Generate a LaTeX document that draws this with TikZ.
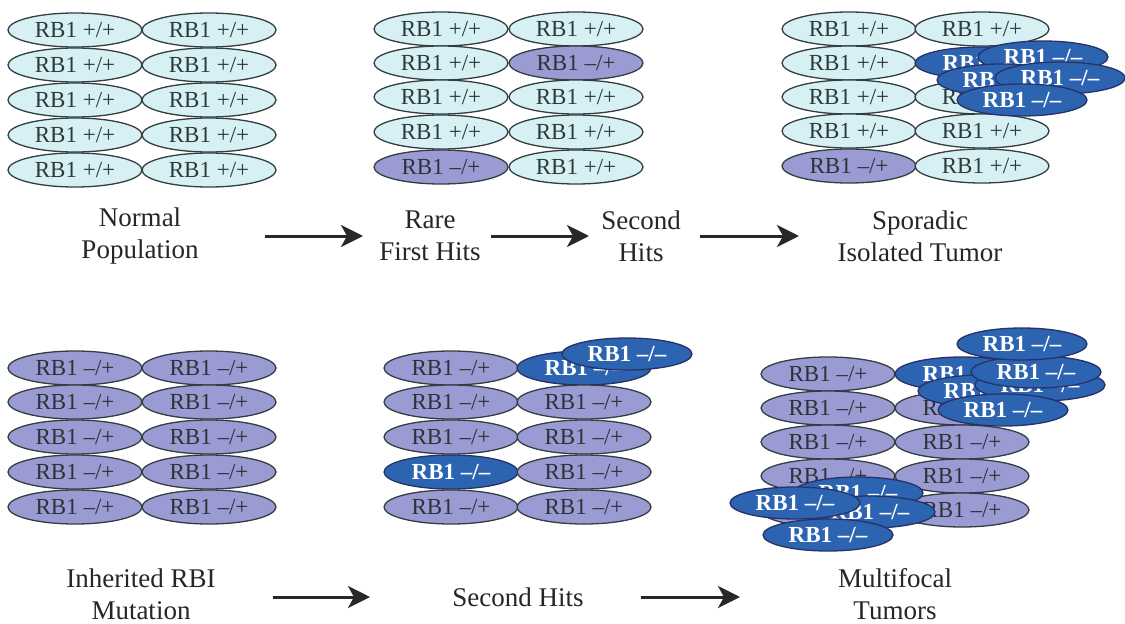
\documentclass[tikz,border=0pt]{standalone}
\usepackage{fontspec}
\setmainfont{Liberation Serif}
\usetikzlibrary{shapes.geometric,arrows.meta}
\definecolor{cellcyan}{RGB}{214,240,243}
\definecolor{cellpurple}{RGB}{155,155,212}
\definecolor{cellblue}{RGB}{44,100,178}
\definecolor{celledge}{RGB}{50,62,64}
\definecolor{txtdark}{RGB}{45,58,60}
\definecolor{arrgray}{RGB}{40,40,40}
\tikzset{
  cell/.style={ellipse,draw=celledge,line width=1.3pt,minimum width=134pt,minimum height=34pt,inner sep=0pt,font=\fontsize{23}{25}\selectfont},
  wt/.style={cell,fill=cellcyan,text=txtdark},
  ht/.style={cell,fill=cellpurple,text=txtdark!90!black},
  ko/.style={cell,fill=cellblue,draw=celledge!80!blue,text=white,font=\fontsize{23}{25}\selectfont\bfseries,minimum width=130pt,minimum height=32pt},
  lbl/.style={align=center,font=\fontsize{27}{32}\selectfont,text=black!85},
  arr/.style={draw=arrgray,line width=3pt,-{Stealth[length=22pt,width=22pt,inset=6pt]}}
}
\newcommand{\wtxt}{RB1 +/+}
\newcommand{\htxt}{RB1 –/+}
\newcommand{\ktxt}{RB1 –/–}
\begin{document}
\begin{tikzpicture}[x=1pt,y=-1pt]
\useasboundingbox (0,0) rectangle (1125,624);
\fill[white] (0,0) rectangle (1125,624);

% ---------- Normal population ----------
\foreach \r/\y in {1/30,2/65,3/100,4/135,5/170}{
  \node[wt] (n\r a) at (75,\y) {\wtxt};
  \node[wt] (n\r b) at (209,\y) {\wtxt};
}

% ---------- Rare first hits ----------
\node[wt] (f1a) at (441,29) {\wtxt};
\node[wt] (f1b) at (576,29) {\wtxt};
\node[wt] (f2a) at (441,63) {\wtxt};
\node[ht] (f2b) at (576,63) {\htxt};
\node[wt] (f3a) at (441,97) {\wtxt};
\node[wt] (f3b) at (576,97) {\wtxt};
\node[wt] (f4a) at (441,132) {\wtxt};
\node[wt] (f4b) at (576,132) {\wtxt};
\node[ht] (f5a) at (441,167) {\htxt};
\node[wt] (f5b) at (576,167) {\wtxt};

% ---------- Sporadic isolated tumor ----------
\node[wt] (s1a) at (849,29) {\wtxt};
\node[wt] (s1b) at (982,29) {\wtxt};
\node[wt] (s2a) at (849,63) {\wtxt};
\node[wt] (s3a) at (849,97) {\wtxt};
\node[wt] (s3b) at (982,97) {\wtxt};
\node[wt] (s4a) at (849,131) {\wtxt};
\node[wt] (s4b) at (982,131) {\wtxt};
\node[ht] (s5a) at (849,166) {\htxt};
\node[wt] (s5b) at (982,166) {\wtxt};
\node[ko,minimum width=134pt] (s2b) at (982,63) {\ktxt};
\node[ko] (sk1) at (1043,57) {\ktxt};
\node[ko] (sk2) at (1002,80) {\ktxt};
\node[ko] (sk3) at (1060,78) {\ktxt};
\node[ko] (sk4) at (1022,100) {\ktxt};

% ---------- Inherited ----------
\foreach \r/\y in {1/368,2/402,3/437,4/472,5/507}{
  \node[ht] (i\r a) at (75,\y) {\htxt};
  \node[ht] (i\r b) at (209,\y) {\htxt};
}

% ---------- Second hits (inherited) ----------
\node[ht] (h1a) at (451,368) {\htxt};
\node[ko,minimum width=134pt,minimum height=34pt] (h1b) at (584,368) {\ktxt};
\node[ht] (h2a) at (451,402) {\htxt};
\node[ht] (h2b) at (584,402) {\htxt};
\node[ht] (h3a) at (451,437) {\htxt};
\node[ht] (h3b) at (584,437) {\htxt};
\node[ko,minimum width=134pt,minimum height=34pt] (h4a) at (451,472) {\ktxt};
\node[ht] (h4b) at (584,472) {\htxt};
\node[ht] (h5a) at (451,507) {\htxt};
\node[ht] (h5b) at (584,507) {\htxt};
\node[ko] (hk1) at (627,354) {\ktxt};

% ---------- Multifocal tumors ----------
\node[ht] (m1a) at (828,374) {\htxt};
\node[ht] (m2a) at (828,408) {\htxt};
\node[ht] (m2b) at (962,408) {\htxt};
\node[ht] (m3a) at (828,442) {\htxt};
\node[ht] (m3b) at (962,442) {\htxt};
\node[ht] (m4a) at (828,476) {\htxt};
\node[ht] (m4b) at (962,476) {\htxt};
\node[ht] (m5a) at (828,510) {\htxt};
\node[ht] (m5b) at (962,510) {\htxt};
\node[ko,minimum width=134pt,minimum height=34pt] (m1b) at (962,374) {\ktxt};
\node[ko] (mk1) at (983,391) {\ktxt};
\node[ko] (mk2) at (1040,385) {\ktxt};
\node[ko] (mk3) at (1036,372) {\ktxt};
\node[ko] (mk4) at (1003,410) {\ktxt};
\node[ko] (mk5) at (1022,344) {\ktxt};
\node[ko] (ml1) at (858,493) {\ktxt};
\node[ko] (ml2) at (870,512) {\ktxt};
\node[ko] (ml3) at (795,503) {\ktxt};
\node[ko] (ml4) at (828,535) {\ktxt};

% ---------- Labels ----------
\node[lbl] (lnormal) at (140,236) {Normal\\Population};
\node[lbl] (lrare) at (430,236) {Rare\\First Hits};
\node[lbl] (lsecond) at (641,236) {Second\\Hits};
\node[lbl] (lspor) at (920,236) {Sporadic\\Isolated Tumor};
\node[lbl] (linh) at (141,594) {Inherited RBI\\Mutation};
\node[lbl] (lsec2) at (518,597) {Second Hits};
\node[lbl] (lmulti) at (895,594) {Multifocal\\Tumors};

% ---------- Arrows ----------
\coordinate (a1s) at (265,236); \coordinate (a1e) at (363,236);
\coordinate (a2s) at (491,236); \coordinate (a2e) at (589,236);
\coordinate (a3s) at (700,236); \coordinate (a3e) at (799,236);
\coordinate (b1s) at (273,597); \coordinate (b1e) at (370,597);
\coordinate (b2s) at (641,597); \coordinate (b2e) at (740,597);
\draw[arr] (a1s) -- (a1e);
\draw[arr] (a2s) -- (a2e);
\draw[arr] (a3s) -- (a3e);
\draw[arr] (b1s) -- (b1e);
\draw[arr] (b2s) -- (b2e);
\end{tikzpicture}
\end{document}
